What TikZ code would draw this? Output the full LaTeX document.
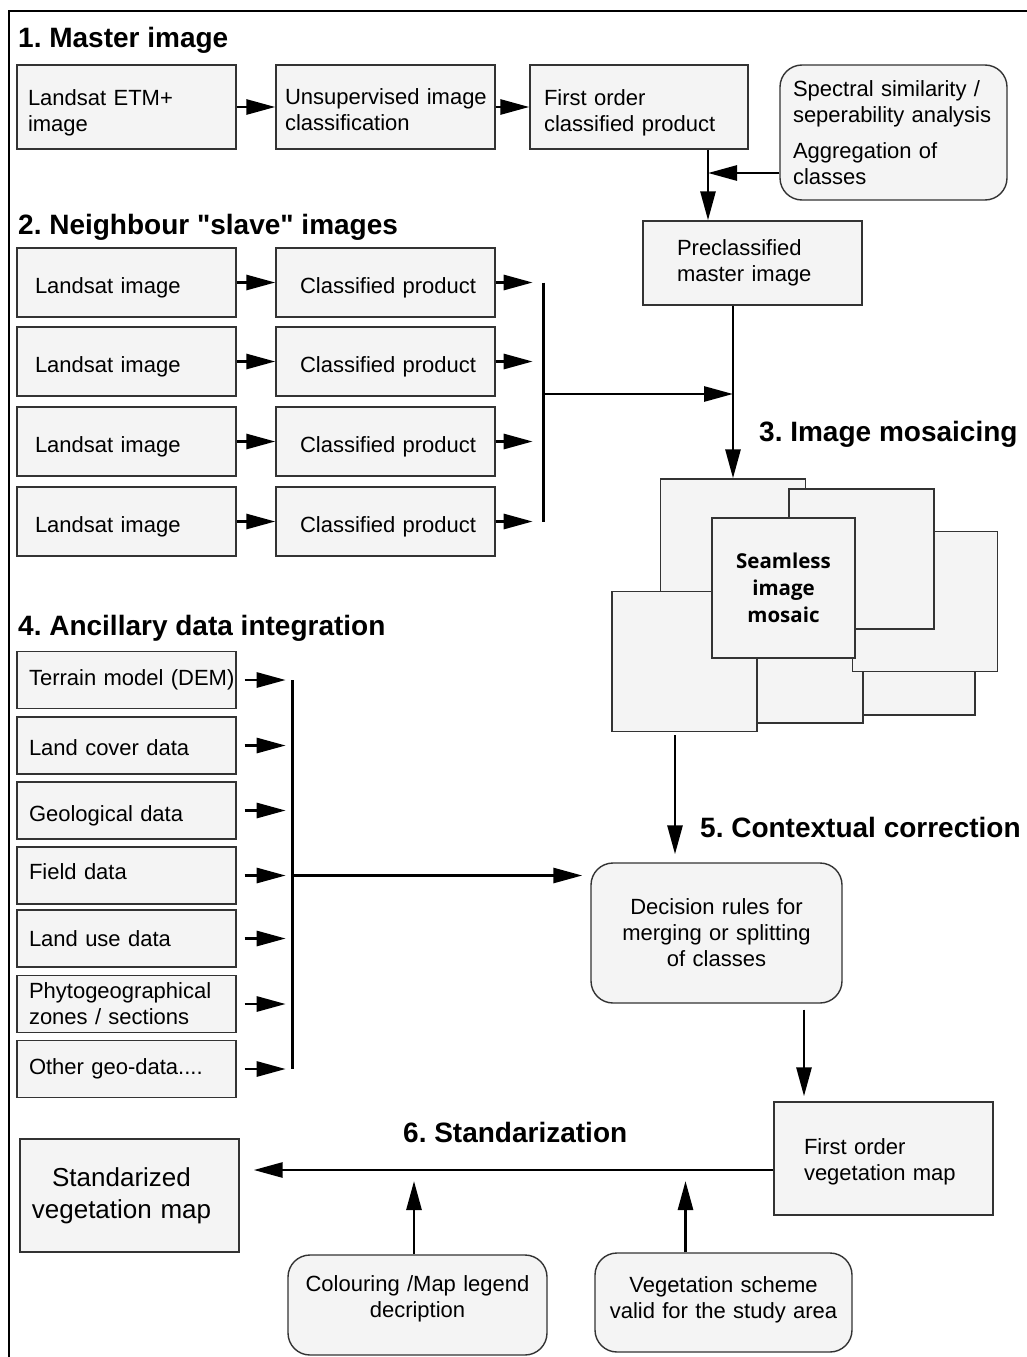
\documentclass[tikz,border=0pt]{standalone}
\usepackage{fontspec}
\setmainfont{Liberation Sans}
\newfontfamily\titlefont{Liberation Sans}[Ligatures=TeXOff]
\newfontfamily\mosfont{Open Sans}
\usetikzlibrary{arrows.meta,calc}
\definecolor{boxfill}{HTML}{F4F4F4}
\definecolor{boxline}{HTML}{333333}
\newcommand\mytop[1]{\rule{0pt}{#1}}
\newcommand\mybot[1]{\rule[-#1]{0pt}{#1}}
\frenchspacing
\begin{document}
\begin{tikzpicture}[x=1pt,y=-1pt,
  box/.style={draw=boxline, fill=boxfill, line width=1.4pt, rectangle, inner ysep=0pt, align=left, font=\frenchspacing\fontsize{22}{26}\selectfont},
  rbox/.style={box, rounded corners=22pt},
  sheet/.style={draw=boxline, fill=boxfill, line width=1.4pt, rectangle, inner sep=0pt, minimum width=145pt, minimum height=140pt},
  title/.style={font=\titlefont\frenchspacing\bfseries\fontsize{28}{32}\selectfont, inner sep=0pt, anchor=base west},
  arr/.style={line width=2.8pt, -{Triangle[length=29pt,width=15pt]}},
  conn/.style={line width=2.8pt}
]
\useasboundingbox (0,0) rectangle (1027,1357);
% frame
\draw[line width=2.6pt] (1027,11) -- (9,11) -- (9,1357);

% titles
\node[title] (t1) at (18,47) {1. Master image};
\node[title] (t2) at (18,234) {2. Neighbour "slave" images};
\node[title] (t3) at (759,441) {3. Image mosaicing};
\node[title] (t4) at (18,635) {4. Ancillary data integration};
\node[title] (t5) at (700,837) {5. Contextual correction};
\node[title] (t6) at (403,1142) {6. Standarization};

% section 1
\node[box, minimum height=84pt, inner xsep=11pt, text width=197pt] (A1) at (126.5,107) {\mytop{28pt}Landsat ETM+\\image};
\node[box, minimum height=84pt, inner xsep=9pt, text width=201pt] (A2) at (385.5,107) {\mytop{22pt}\mbox{Unsupervised image}\\classification};
\node[box, minimum height=84pt, inner xsep=14pt, text width=190pt] (A3) at (639,107) {\mytop{28pt}First order\\classified product};
\node[rbox, minimum height=135pt, inner xsep=13pt, text width=201pt] (A4) at (893.5,132.5) {\mbox{Spectral similarity /}\\\mbox{seperability analysis}\\[10pt]Aggregation of\\classes};
\node[box, minimum height=84pt, inner xsep=34pt, text width=151pt] (P) at (752.5,263) {Preclassified\\master image};

\draw[arr] (A1.east) -- (A2.west);
\draw[arr] (A2.east) -- (A3.west);
\coordinate (m1) at ([xshift=69pt]A3.south);
\draw[arr] (m1) -- (m1 |- P.north);
\draw[arr] ([yshift=-40.5pt]A4.west) -- ([yshift=-40.5pt]A4.west -| m1);

% section 2
\foreach \i/\y in {1/282.5,2/361.5,3/441.5,4/521.5}{
  \node[box, minimum height=69pt, inner xsep=18pt, text width=183pt] (L\i) at (126.5,\y) {\mytop{26pt}Landsat image};
  \node[box, minimum height=69pt, inner xsep=24pt, text width=171pt] (C\i) at (385.5,\y) {\mytop{26pt}\mbox{Classified product}};
  \draw[arr] (L\i.east) -- (C\i.west);
  \draw[arr] (C\i.east) -- ++(37,0);
}
\draw[conn] ([xshift=48pt]C1.east) -- ([xshift=48pt]C4.east);
\coordinate (b1) at ($([xshift=48pt]C1.east)!0.4665!([xshift=48pt]C4.east)$);

% section 3 mosaic
\node[sheet] (Rd) at (902.5,645) {};
\node[sheet] (Re) at (790.5,653) {};
\node[sheet] (Rc) at (925,601.5) {};
\node[sheet] (Ra) at (733,549) {};
\node[sheet] (Rb) at (861.5,559) {};
\node[sheet] (Rf) at (684.5,661.5) {};
\node[sheet, minimum width=143pt, align=center, font=\mosfont\bfseries\fontsize{20.5}{27}\selectfont] (Rg) at (783.5,588) {Seamless\\image\\mosaic};

\draw[arr] (P.south -| Ra.north) -- (Ra.north);
\draw[arr] (b1) -- (b1 -| Ra.north);

% section 4
\foreach \i/\y/\t in {1/680/{\mbox{Terrain model (DEM)}},2/745.5/{\mytop{20pt}Land cover data},3/810.5/{\mytop{26pt}Geological data},4/875.5/{Field data\mybot{8pt}},5/938.5/{Land use data},6/1004/{Phytogeographical\\zones / sections},7/1069/{Other geo-data....}}{
  \node[box, minimum height=57pt, inner xsep=12pt, text width=195pt] (D\i) at (126.5,\y) {\t};
  \draw[arr] ([xshift=8pt]D\i.east) -- ++(41,0);
}
\draw[conn] ([xshift=56pt]D1.east) -- ([xshift=56pt]D7.east);
\coordinate (b2) at ([xshift=56pt]D4.east);

% section 5
\node[rbox, minimum height=140pt, inner xsep=10pt, text width=231pt, align=center] (Dec) at (716.5,933) {Decision rules for\\merging or splitting\\of classes};
\draw[arr, shorten >=8pt] (b2) -- (b2 -| Dec.west);
\draw[arr, shorten <=3pt, shorten >=8pt] ([xshift=-9.5pt]Rf.south) -- ([xshift=-9.5pt]Rf.south |- Dec.north);
\node[box, minimum height=113pt, inner xsep=30pt, text width=159pt] (Veg) at (883.5,1158.5) {\mytop{22pt}First order\\vegetation map};
\draw[arr, shorten <=6pt, shorten >=5pt] ([xshift=87.5pt]Dec.south) -- ([xshift=87.5pt]Dec.south |- Veg.north);

% section 6
\node[box, minimum height=113pt, inner xsep=8pt, text width=203pt, align=center, font=\fontsize{26}{32}\selectfont] (Std) at (129.5,1195.5) {\hspace*{-16pt}Standarized\\\hspace*{-16pt}vegetation map};
\coordinate (hl) at ([yshift=-11.5pt]Veg.west);
\draw[arr, shorten >=14pt] (hl) -- (hl -| Std.east);
\node[rbox, minimum height=100pt, inner xsep=8pt, text width=243pt, align=center] (Col) at (417.5,1305) {Colouring /Map legend\\decription\mybot{16.6pt}};
\node[rbox, minimum height=99pt, inner xsep=8pt, text width=241pt, align=center] (VS) at (723.5,1302.5) {Vegetation scheme\\valid for the study area\mybot{10.6pt}};
\draw[arr, shorten >=11pt] ([xshift=-3.5pt]Col.north) -- ([xshift=-3.5pt]Col.north |- hl);
\draw[arr, shorten >=11pt] ([xshift=-38pt]VS.north) -- ([xshift=-38pt]VS.north |- hl);
\end{tikzpicture}
\end{document}
